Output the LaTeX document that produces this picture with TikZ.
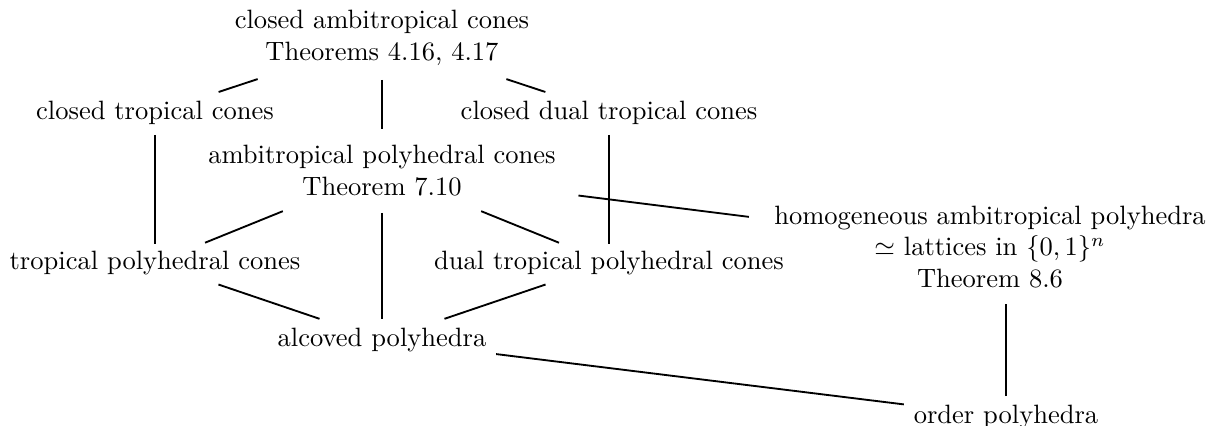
\documentclass[tikz,border=0pt]{standalone}
\begin{document}
\begin{tikzpicture}[x=0.377pt,y=-0.377pt,
  lbl/.style={inner sep=0pt, outer sep=0pt, align=center, font=\normalsize},
  link/.style={line width=0.7pt},
  sh/.style 2 args={shorten <=#1*0.377pt, shorten >=#2*0.377pt}]
\useasboundingbox (0,0) rectangle (1208,426);
\node[lbl] (ca)  at (382,38)  {closed ambitropical cones\\Theorems 4.16, 4.17};
\node[lbl] (ct)  at (155,113) {closed tropical cones};
\node[lbl] (cdt) at (609,113) {closed dual tropical cones};
\node[lbl] (ap)  at (382,171) {ambitropical polyhedral cones\\Theorem 7.10};
\node[lbl] (hap) at (990,247) {homogeneous ambitropical polyhedra\\$\simeq$ lattices in $\{0,1\}^n$\\Theorem 8.6};
\node[lbl] (tp)  at (155,263) {tropical polyhedral cones};
\node[lbl] (dtp) at (609,263) {dual tropical polyhedral cones};
\node[lbl] (al)  at (382,340) {alcoved polyhedra};
\node[lbl] (op)  at (1006,417) {order polyhedra};
\coordinate (hapx) at (op.center |- hap.center);
\draw[link, sh={131}{67}] (ca.center) -- (ct.center);
\draw[link, sh={42}{42}] (ca.center) -- (ap.center);
\draw[link, sh={131}{67}] (ca.center) -- (cdt.center);
\draw[link, sh={22}{19}] (ct.center) -- (tp.center);
\draw[link, sh={22}{19}] (cdt.center) -- (dtp.center);
\draw[link, sh={107}{54}] (ap.center) -- (tp.center);
\draw[link, sh={42}{21}] (ap.center) -- (al.center);
\draw[link, sh={107}{54}] (ap.center) -- (dtp.center);
\draw[link, sh={67}{66}] (tp.center) -- (al.center);
\draw[link, sh={67}{66}] (dtp.center) -- (al.center);
\draw[link, sh={198}{243}] (ap.center) -- (hap.center);
\draw[link, sh={115}{103}] (al.center) -- (op.center);
\draw[link, sh={21}{57}] (op.center) -- (hapx);
\end{tikzpicture}
\end{document}
